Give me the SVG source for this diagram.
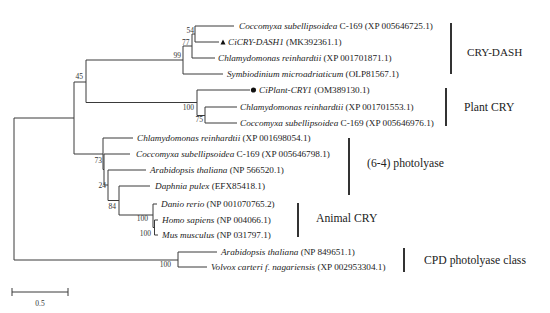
<svg xmlns="http://www.w3.org/2000/svg" width="550" height="313" viewBox="0 0 550 313">
<style>
.br{fill:none;stroke:#3a3a3a;stroke-width:1}
.bar{stroke:#333;stroke-width:2}
.lf{font-family:"Liberation Serif","Times New Roman",serif;font-size:9.2px;fill:#222}
.i{font-style:italic}
.bs{font-family:"Liberation Serif","Times New Roman",serif;font-size:7.5px;fill:#333;text-anchor:end}
.cl{font-family:"Liberation Serif","Times New Roman",serif;font-size:11.7px;fill:#222}
</style>
<rect width="550" height="313" fill="#fff"/>
<g id="connectors">
<path class="br" d="M14,118V260M14,118H74M14,260H178"/>
<path class="br" d="M74,82V154M74,82H86M74,154H103"/>
<path class="br" d="M86,60V102.5M86,60H183M86,102.5H197"/>
<path class="br" d="M183,46V74M183,46H192M183,74H223"/>
<path class="br" d="M192,34V58M192,34H195M192,58H215"/>
<path class="br" d="M195,26V42M195,26H234M195,42H219"/>
<path class="br" d="M197,90V115.5M197,90H250M197,115.5H205"/>
<path class="br" d="M205,107V123M205,107H237M205,123H237"/>
<path class="br" d="M103,138V169.5M103,138H133M103,169.5H104"/>
<path class="br" d="M104,154V185M104,154H130M104,185H108"/>
<path class="br" d="M108,170V200.5M108,170H146M108,200.5H119"/>
<path class="br" d="M119,186V215M119,186H150M119,215H153"/>
<path class="br" d="M153,204V227.5M153,204H157M153,227.5H154.5"/>
<path class="br" d="M154.5,220V235M154.5,220H158M154.5,235H158"/>
<path class="br" d="M178,252V267M178,252H217M178,267H207"/>
</g>
<g id="bootstrap" fill="#333">
<text class="bs" x="194" y="32.5">54</text>
<text class="bs" x="189.5" y="44.5">77</text>
<text class="bs" x="181" y="58">99</text>
<text class="bs" x="83" y="79">45</text>
<text class="bs" x="194" y="110">100</text>
<text class="bs" x="203" y="122">75</text>
<text class="bs" x="102" y="163">73</text>
<text class="bs" x="106" y="188">24</text>
<text class="bs" x="116" y="208.5">84</text>
<text class="bs" x="148" y="221">100</text>
<text class="bs" x="151" y="236">100</text>
<text class="bs" x="171" y="267">100</text>
</g>
<g id="leaf1"><text class="lf" x="239" y="29.2"><tspan class="i">Coccomyxa subellipsoidea</tspan> C-169 (XP 005646725.1)</text></g>
<g id="leaf2"><path d="M220.5,44.5L223,39.5L225.5,44.5Z" fill="#111"/><text class="lf" x="228" y="45.2"><tspan class="i">CiCRY-DASH1</tspan> (MK392361.1)</text></g>
<g id="leaf3"><text class="lf" x="218" y="61.2"><tspan class="i">Chlamydomonas reinhardtii</tspan> (XP 001701871.1)</text></g>
<g id="leaf4"><text class="lf" x="227" y="77.2"><tspan class="i">Symbiodinium microadriaticum</tspan> (OLP81567.1)</text></g>
<g id="leaf5"><circle cx="253.5" cy="90" r="2.6" fill="#111"/><text class="lf" x="259" y="93.2"><tspan class="i">CiPlant-CRY1</tspan> (OM389130.1)</text></g>
<g id="leaf6"><text class="lf" x="240" y="110.2"><tspan class="i">Chlamydomonas reinhardtii</tspan> (XP 001701553.1)</text></g>
<g id="leaf7"><text class="lf" x="240" y="126.2"><tspan class="i">Coccomyxa subellipsoidea</tspan> C-169 (XP 005646976.1)</text></g>
<g id="leaf8"><text class="lf" x="137" y="141.2"><tspan class="i">Chlamydomonas reinhardtii</tspan> (XP 001698054.1)</text></g>
<g id="leaf9"><text class="lf" x="136" y="157.2"><tspan class="i">Coccomyxa subellipsoidea</tspan> C-169 (XP 005646798.1)</text></g>
<g id="leaf10"><text class="lf" x="150" y="173.2"><tspan class="i">Arabidopsis thaliana</tspan> (NP 566520.1)</text></g>
<g id="leaf11"><text class="lf" x="155" y="189.2"><tspan class="i">Daphnia pulex</tspan> (EFX85418.1)</text></g>
<g id="leaf12"><text class="lf" x="161" y="207.2"><tspan class="i">Danio rerio</tspan> (NP 001070765.2)</text></g>
<g id="leaf13"><text class="lf" x="162" y="223.2"><tspan class="i">Homo sapiens</tspan> (NP 004066.1)</text></g>
<g id="leaf14"><text class="lf" x="162" y="238.2"><tspan class="i">Mus musculus</tspan> (NP 031797.1)</text></g>
<g id="leaf15"><text class="lf" x="221" y="255.2"><tspan class="i">Arabidopsis thaliana</tspan> (NP 849651.1)</text></g>
<g id="leaf16"><text class="lf" x="211" y="270.2"><tspan class="i">Volvox carteri f. nagariensis</tspan> (XP 002953304.1)</text></g>
<g id="clade-crydash"><line class="bar" x1="451" y1="23" x2="451" y2="74"/><text class="cl" x="467" y="55.5" style="font-size:11.2px">CRY-DASH</text></g>
<g id="clade-plantcry"><line class="bar" x1="446" y1="88" x2="446" y2="126"/><text class="cl" x="464" y="110.5">Plant CRY</text></g>
<g id="clade-64"><line class="bar" x1="349" y1="138" x2="349" y2="195"/><text class="cl" x="367" y="167">(6-4) photolyase</text></g>
<g id="clade-animal"><line class="bar" x1="298" y1="203" x2="298" y2="237"/><text class="cl" x="316" y="222">Animal CRY</text></g>
<g id="clade-cpd"><line class="bar" x1="404" y1="248" x2="404" y2="272"/><text class="cl" x="424" y="264">CPD photolyase class</text></g>
<g id="scalebar"><path class="br" d="M12,292H68M12,288V296M68,288V296" stroke-width="1.3"/><text class="bs" x="40" y="306" style="text-anchor:middle">0.5</text></g>
</svg>
